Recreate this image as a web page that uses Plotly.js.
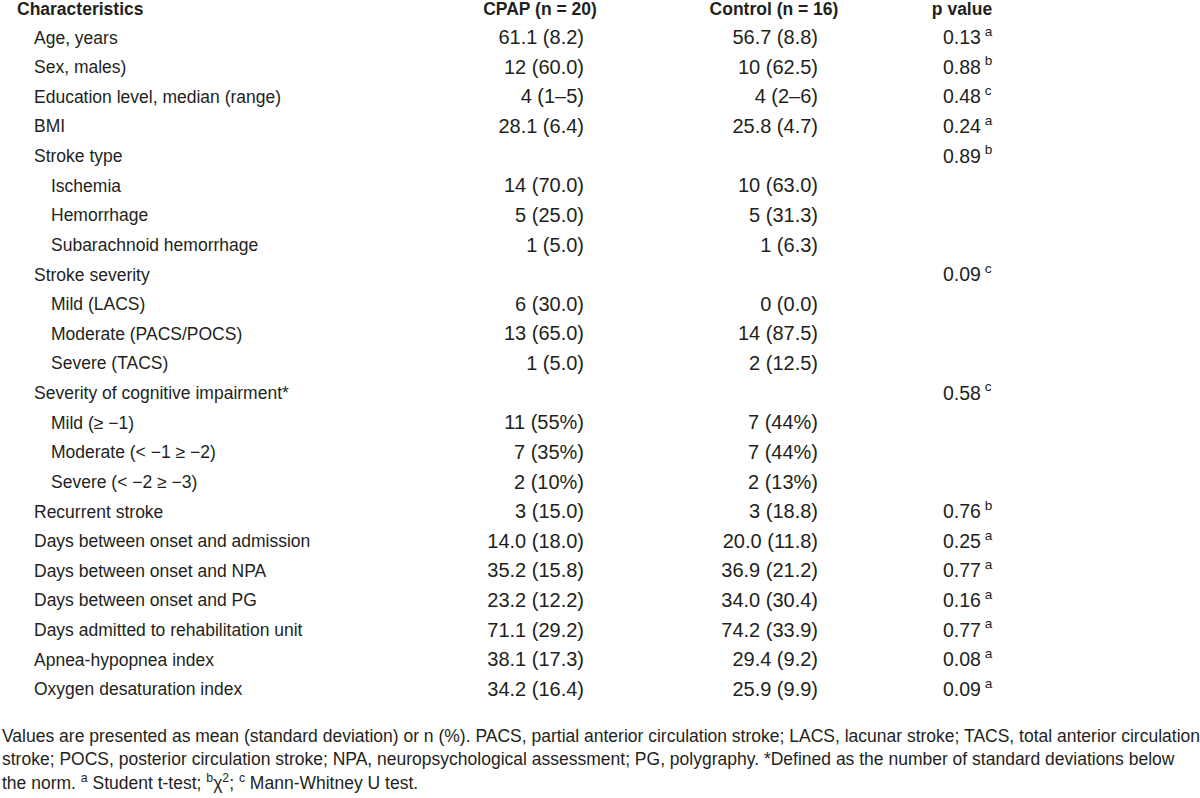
<!DOCTYPE html>
<html>
<head>
<meta charset="utf-8">
<script src="https://cdn.plot.ly/plotly-3.0.1.min.js"></script>
<style>html,body{margin:0;padding:0;background:#fff}#chart{width:1200px;height:798px}</style>
</head>
<body>
<div id="chart"></div>
<script>
const headers = ["Characteristics", "CPAP (n = 20)", "Control (n = 16)", "p value"];
const labels = [
  "Age, years", "Sex, males)", "Education level, median (range)", "BMI", "Stroke type",
  "Ischemia", "Hemorrhage", "Subarachnoid hemorrhage", "Stroke severity",
  "Mild (LACS)", "Moderate (PACS/POCS)", "Severe (TACS)", "Severity of cognitive impairment*",
  "Mild (\u2265 \u22121)", "Moderate (< \u22121 \u2265 \u22122)", "Severe (< \u22122 \u2265 \u22123)",
  "Recurrent stroke", "Days between onset and admission", "Days between onset and NPA",
  "Days between onset and PG", "Days admitted to rehabilitation unit",
  "Apnea-hypopnea index", "Oxygen desaturation index"
];
const levels = [1,1,1,1,1, 2,2,2,1, 2,2,2,1, 2,2,2, 1,1,1,1,1,1,1];
const cpap = [
  "61.1 (8.2)", "12 (60.0)", "4 (1\u20135)", "28.1 (6.4)", "",
  "14 (70.0)", "5 (25.0)", "1 (5.0)", "",
  "6 (30.0)", "13 (65.0)", "1 (5.0)", "",
  "11 (55%)", "7 (35%)", "2 (10%)",
  "3 (15.0)", "14.0 (18.0)", "35.2 (15.8)", "23.2 (12.2)", "71.1 (29.2)", "38.1 (17.3)", "34.2 (16.4)"
];
const control = [
  "56.7 (8.8)", "10 (62.5)", "4 (2\u20136)", "25.8 (4.7)", "",
  "10 (63.0)", "5 (31.3)", "1 (6.3)", "",
  "0 (0.0)", "14 (87.5)", "2 (12.5)", "",
  "7 (44%)", "7 (44%)", "2 (13%)",
  "3 (18.8)", "20.0 (11.8)", "36.9 (21.2)", "34.0 (30.4)", "74.2 (33.9)", "29.4 (9.2)", "25.9 (9.9)"
];
const pvals = [
  "0.13", "0.88", "0.48", "0.24", "0.89",
  "", "", "", "0.09",
  "", "", "", "0.58",
  "", "", "",
  "0.76", "0.25", "0.77", "0.16", "0.77", "0.08", "0.09"
];
const ptests = [
  "a", "b", "c", "a", "b",
  "", "", "", "c",
  "", "", "", "c",
  "", "", "",
  "b", "a", "a", "a", "a", "a", "a"
];
const footnotes = [
  "Values are presented as mean (standard deviation) or n (%). PACS, partial anterior circulation stroke; LACS, lacunar stroke; TACS, total anterior circulation",
  "stroke; POCS, posterior circulation stroke; NPA, neuropsychological assessment; PG, polygraphy. *Defined as the number of standard deviations below",
  "the norm. <sup>a</sup> Student t-test; <sup>b</sup>\u03c7<sup>2</sup>; <sup>c</sup> Mann-Whitney U test."
];

const FONT = "'Liberation Sans', Arial, Helvetica, sans-serif";
const COLOR = "#231f20";
const FS_TEXT = 17.5, FS_NUM = 20;
const rows = labels.map((_, i) => i + 1);

// column anchors (axis units = pixels)
const X_LABEL0 = 17, INDENT = 17, X_CPAP = 584, X_CTRL = 818, X_P = 943;
const HEADER_ROW = 0.05;

function textTrace(x, y, text, pos, size) {
  const keep = text.map((t, i) => t !== "" ? i : -1).filter(i => i >= 0);
  return {
    type: "scatter", mode: "text",
    x: keep.map(i => x[i]), y: keep.map(i => y[i]), text: keep.map(i => text[i]),
    textposition: pos, cliponaxis: false, hoverinfo: "skip", showlegend: false,
    textfont: {family: FONT, size: size, color: COLOR}
  };
}

const traces = [
  textTrace([X_LABEL0], [HEADER_ROW], ["<b>" + headers[0] + "</b>"], "middle right", FS_TEXT),
  textTrace([540, 774, 962], [HEADER_ROW, HEADER_ROW, HEADER_ROW], headers.slice(1).map(h => "<b>" + h + "</b>"), "middle center", FS_TEXT),
  textTrace(levels.map(l => X_LABEL0 + INDENT * l), rows, labels, "middle right", FS_TEXT),
  textTrace(rows.map(() => X_CPAP), rows, cpap, "middle left", FS_NUM),
  textTrace(rows.map(() => X_CTRL), rows, control, "middle left", FS_NUM),
  textTrace(rows.map(() => X_P), rows, pvals.map((p, i) => p ? p + "\u2009<sup>" + ptests[i] + "</sup>" : ""), "middle right", 19.5)
];

const STEP = 29.63, TOP = 9.5;
const y0 = -TOP / STEP, y1 = y0 + 798 / STEP;

const annotations = footnotes.map((t, i) => ({
  text: t, xref: "paper", yref: "paper", x: 0, y: 1 - (736 + 22.8 * i) / 798,
  xanchor: "left", yanchor: "middle", showarrow: false, align: "left",
  font: {family: FONT, size: 17.5, color: COLOR}
}));

const layout = {
  width: 1200, height: 798,
  margin: {l: 0, r: 0, t: 0, b: 0, pad: 0},
  paper_bgcolor: "#ffffff", plot_bgcolor: "#ffffff",
  xaxis: {range: [0, 1200], visible: false, fixedrange: true},
  yaxis: {range: [y1, y0], visible: false, fixedrange: true},
  annotations: annotations,
  showlegend: false
};

Plotly.newPlot("chart", traces, layout, {staticPlot: true, displayModeBar: false});
</script>
</body>
</html>
